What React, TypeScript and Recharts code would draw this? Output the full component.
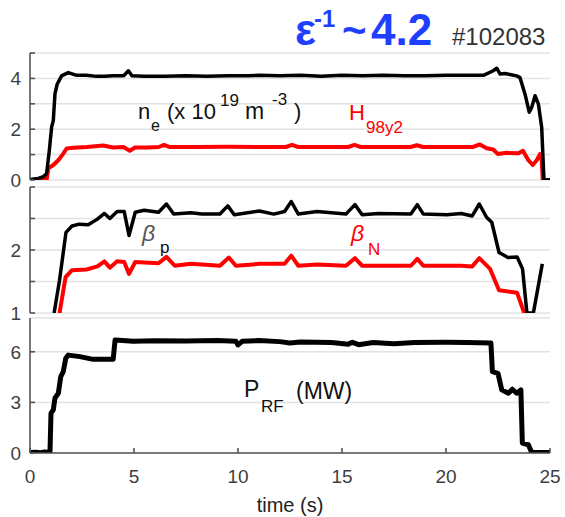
import { LineChart, Line, XAxis, YAxis, CartesianGrid } from 'recharts';

const FONT = '"Liberation Sans", Arial, sans-serif';
const AXIS = '#555555';
const TICK_TEXT = '#404040';

const timeTicks = [0, 5, 10, 15, 20, 25];

// n_e (x 10^19 m^-3)
const neT = [0, 0.4, 0.64, 0.8, 0.93, 1.04, 1.12, 1.2, 1.31, 1.52, 1.84, 2.24, 2.72, 3.2, 3.6, 4.0, 4.5, 4.73, 4.9, 5.5, 6.5, 7.5, 8.5, 9.5, 10.5, 11.0, 12.0, 13.0, 14.0, 15.0, 16.0, 17.0, 18.0, 19.0, 20.0, 21.0, 21.8, 22.27, 22.44, 22.6, 22.84, 23.4, 23.56, 23.8, 24.0, 24.12, 24.28, 24.44, 24.6, 24.71, 25];
const neV = [0.02, 0.06, 0.13, 0.26, 1.17, 2.08, 2.34, 3.39, 3.78, 4.1, 4.23, 4.12, 4.12, 4.08, 4.08, 4.1, 4.1, 4.3, 4.1, 4.08, 4.08, 4.1, 4.08, 4.1, 4.1, 4.12, 4.1, 4.12, 4.08, 4.12, 4.1, 4.12, 4.1, 4.1, 4.12, 4.12, 4.12, 4.3, 4.4, 4.17, 4.19, 4.1, 4.03, 3.38, 2.67, 2.86, 3.32, 3.0, 2.08, 0, 0];

// H98y2
const hT = [0, 0.8, 0.88, 1.12, 1.36, 1.6, 1.76, 2.08, 2.73, 3.52, 4.0, 4.49, 4.8, 5.05, 5.6, 6.2, 6.44, 6.7, 8.0, 9.5, 11.0, 12.3, 12.6, 12.9, 14.0, 15.3, 15.6, 15.9, 17.0, 18.3, 18.6, 18.9, 20.0, 21.3, 21.63, 21.95, 22.27, 22.5, 22.9, 23.48, 23.7, 23.96, 24.17, 24.36, 24.52, 24.6, 24.65, 25];
const hV = [0, 0, 0.46, 0.59, 0.78, 1.04, 1.24, 1.27, 1.3, 1.36, 1.28, 1.3, 1.15, 1.28, 1.28, 1.3, 1.38, 1.3, 1.3, 1.31, 1.3, 1.3, 1.38, 1.3, 1.3, 1.3, 1.38, 1.3, 1.3, 1.3, 1.37, 1.3, 1.3, 1.3, 1.4, 1.25, 1.2, 1.02, 1.07, 1.05, 1.15, 0.78, 0.59, 0.78, 1.02, 0.78, 0, 0];

// beta_p
const bpT = [1.16, 1.42, 1.73, 2.02, 2.37, 2.8, 3.24, 3.58, 3.84, 4.19, 4.53, 4.76, 5.06, 5.49, 6.18, 6.56, 6.91, 7.74, 8.26, 9.13, 9.51, 9.82, 11.03, 11.72, 12.24, 12.56, 12.9, 13.8, 15.19, 15.62, 15.97, 16.75, 18.31, 18.62, 18.91, 20.04, 20.73, 21.26, 21.6, 21.95, 22.2, 22.55, 22.98, 23.42, 23.68, 23.89, 24.2, 24.63];
const bpV = [1.0, 1.52, 2.28, 2.38, 2.41, 2.4, 2.49, 2.58, 2.5, 2.61, 2.61, 2.23, 2.6, 2.63, 2.6, 2.73, 2.57, 2.59, 2.57, 2.57, 2.7, 2.56, 2.62, 2.57, 2.61, 2.77, 2.57, 2.61, 2.57, 2.72, 2.56, 2.58, 2.57, 2.72, 2.57, 2.56, 2.58, 2.54, 2.73, 2.52, 2.44, 1.96, 1.88, 1.89, 1.7, 1.0, 1.0, 1.78];

// beta_N
const bnT = [1.42, 1.71, 2.02, 2.72, 3.24, 3.58, 3.84, 4.19, 4.53, 4.76, 5.06, 6.18, 6.56, 6.96, 7.74, 9.13, 9.56, 9.9, 11.03, 12.24, 12.56, 12.9, 13.8, 15.19, 15.62, 15.97, 18.31, 18.62, 18.91, 20.73, 21.26, 21.6, 22.12, 22.55, 23.42, 23.76];
const bnV = [1.0, 1.57, 1.68, 1.69, 1.74, 1.82, 1.72, 1.82, 1.81, 1.62, 1.81, 1.79, 1.89, 1.75, 1.78, 1.75, 1.88, 1.75, 1.78, 1.78, 1.91, 1.75, 1.77, 1.75, 1.87, 1.75, 1.75, 1.86, 1.75, 1.75, 1.74, 1.87, 1.7, 1.36, 1.32, 1.0];

// P_RF (MW)
const prfT = [0, 0.3, 0.5, 0.7, 0.96, 1.01, 1.12, 1.2, 1.36, 1.48, 1.6, 1.72, 1.84, 2.4, 3.04, 4.0, 4.09, 4.97, 6.0, 7.5, 9.0, 9.9, 10.0, 10.2, 11.0, 12.0, 12.5, 13.0, 14.5, 15.3, 15.5, 15.8, 16.5, 17.5, 18.5, 20.0, 21.0, 22.16, 22.23, 22.5, 22.68, 23.0, 23.19, 23.4, 23.6, 23.67, 23.96, 24.12, 25];
const prfV = [0.03, 0.05, 0.02, 0.06, 0.03, 2.36, 2.56, 3.25, 3.54, 4.53, 4.82, 5.61, 5.8, 5.71, 5.55, 5.55, 6.69, 6.62, 6.65, 6.63, 6.66, 6.62, 6.4, 6.62, 6.66, 6.6, 6.52, 6.58, 6.55, 6.45, 6.56, 6.42, 6.55, 6.47, 6.55, 6.56, 6.55, 6.52, 4.82, 4.72, 3.74, 3.54, 3.78, 3.54, 3.74, 0.59, 0.49, 0.03, 0.03];

const pts = (t: number[], v: number[]) => t.map((x, i) => ({ t: x, v: v[i] }));

const leftTick = (show: (v: number) => boolean) => (p: any) =>
  show(p.payload.value) ? (
    <text x={p.x} y={p.y} dy="0.36em" textAnchor="end" fontSize={19} fill={TICK_TEXT} fontFamily={FONT}>
      {p.payload.value}
    </text>
  ) : (
    <g />
  );

const axisLine = { stroke: AXIS, strokeWidth: 1.6 };

function Panel({ top, height, mTop, mBottom, xHeight, domain, ticks, labelled, showX, children }: any) {
  return (
    <div style={{ position: 'absolute', left: 0, top }}>
      <LineChart width={565} height={height} margin={{ top: mTop, right: 15, bottom: mBottom, left: 0 }}>
        <CartesianGrid vertical={false} stroke="#e2e2e2" strokeWidth={1.5} />
        <XAxis
          dataKey="t" type="number" domain={[0, 25]} ticks={timeTicks} allowDataOverflow interval={0}
          height={xHeight} tickSize={-5} tickMargin={22}
          tick={showX ? { fontSize: 19, fill: TICK_TEXT, fontFamily: FONT } : false}
          axisLine={axisLine} tickLine={axisLine}
        />
        <XAxis
          xAxisId="top" orientation="top" dataKey="t" type="number" domain={[0, 25]} ticks={timeTicks}
          allowDataOverflow interval={0} height={0} mirror tickSize={5} tick={false}
          axisLine={axisLine} tickLine={axisLine}
        />
        <YAxis
          type="number" domain={domain} ticks={ticks} allowDataOverflow interval={0} width={30}
          tickSize={-5} tickMargin={14} tick={leftTick(labelled)} axisLine={axisLine} tickLine={axisLine}
        />
        <YAxis
          yAxisId="r" orientation="right" type="number" domain={domain} ticks={ticks} allowDataOverflow
          interval={0} width={0} mirror tickSize={5} tick={false} axisLine={axisLine} tickLine={axisLine}
        />
        {children}
      </LineChart>
    </div>
  );
}

const T = { fontFamily: FONT };

export default function App() {
  return (
    <div style={{ position: 'absolute', left: 0, top: 0, width: 565, height: 517, background: '#fff' }}>
      <Panel top={0} height={200} mTop={53} mBottom={20} xHeight={0} domain={[0, 5]} ticks={[0, 1, 2, 3, 4, 5]}
        labelled={(v: number) => v % 2 === 0 && v < 5}>
        <Line data={pts(hT, hV)} dataKey="v" stroke="#ff0000" strokeWidth={4} strokeLinejoin="round" dot={false} isAnimationActive={false} type="linear" />
        <Line data={pts(neT, neV)} dataKey="v" stroke="#000" strokeWidth={3.5} strokeLinejoin="round" dot={false} isAnimationActive={false} type="linear" />
      </Panel>
      <Panel top={175} height={155} mTop={12} mBottom={17} xHeight={0} domain={[1, 3]} ticks={[1, 1.5, 2, 2.5, 3]}
        labelled={(v: number) => v === 1 || v === 2}>
        <Line data={pts(bnT, bnV)} dataKey="v" stroke="#ff0000" strokeWidth={4} strokeLinejoin="round" dot={false} isAnimationActive={false} type="linear" />
        <Line data={pts(bpT, bpV)} dataKey="v" stroke="#000" strokeWidth={3.5} strokeLinejoin="round" dot={false} isAnimationActive={false} type="linear" />
      </Panel>
      <Panel top={305} height={212} mTop={13} mBottom={0} xHeight={64} domain={[0, 8]} ticks={[0, 3, 6]}
        labelled={() => true} showX>
        <Line data={pts(prfT, prfV)} dataKey="v" stroke="#000" strokeWidth={5} strokeLinejoin="round" dot={false} isAnimationActive={false} type="linear" />
      </Panel>

      <svg width={565} height={517} style={{ position: 'absolute', left: 0, top: 0, pointerEvents: 'none' }}>
        <g fill="#1f3fff" fontWeight="bold" {...T}>
          <text x={295} y={45} fontSize={44}>ε</text>
          <text x={314} y={27} fontSize={24}>-1</text>
          <text x={342} y={45} fontSize={42}>~</text>
          <text x={371} y={45} fontSize={44}>4.2</text>
        </g>
        <text x={452} y={45} fontSize={24} fill="#333" {...T}>#102083</text>

        <g fill="#111" {...T}>
          <text x={138} y={119} fontSize={22}>n</text>
          <text x={151} y={131} fontSize={16}>e</text>
          <text x={167} y={119} fontSize={22}>(x 10</text>
          <text x={220} y={106} fontSize={17}>19</text>
          <text x={245} y={119} fontSize={23}>m</text>
          <text x={272} y={105} fontSize={17}>-3</text>
          <text x={294} y={119} fontSize={22}>)</text>
        </g>
        <g fill="#ff0000" {...T}>
          <text x={349} y={120} fontSize={22}>H</text>
          <text x={366} y={133} fontSize={17}>98y2</text>
        </g>

        <text x={142} y={241} fontSize={23} fill="#555" fontStyle="italic" {...T}>β</text>
        <text x={160} y={253} fontSize={17} fill="#111" {...T}>p</text>
        <g fill="#ff0000" {...T}>
          <text x={351} y={241} fontSize={23} fontStyle="italic">β</text>
          <text x={368} y={255} fontSize={17}>N</text>
        </g>

        <g fill="#111" {...T}>
          <text x={244} y={397} fontSize={23}>P</text>
          <text x={261} y={412} fontSize={17}>RF</text>
          <text x={296} y={399} fontSize={23}>(MW)</text>
        </g>

        <text x={290} y={512} fontSize={20} fill="#222" textAnchor="middle" {...T}>time (s)</text>
      </svg>
    </div>
  );
}
